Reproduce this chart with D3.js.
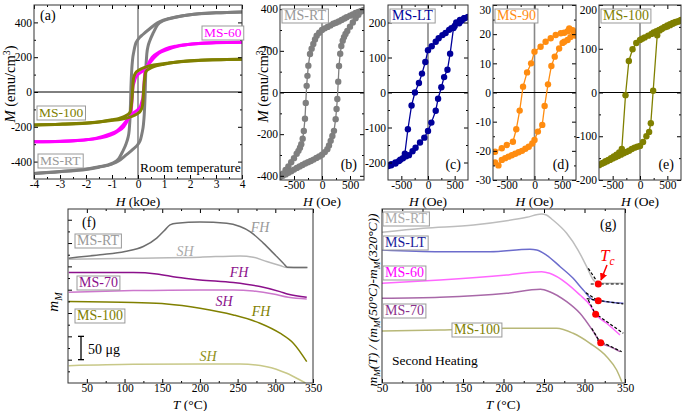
<!DOCTYPE html>
<html><head><meta charset="utf-8">
<script src="https://cdn.jsdelivr.net/npm/d3@7"></script>
<style>
body{margin:0;background:#fff;}
svg{display:block;}
</style></head><body>
<svg id="c" width="685" height="411" font-family="Liberation Serif, Times New Roman, serif"></svg>
<script>
// ---------------- DATA ----------------
// (a) room temperature loops, H in kOe, M in emu/cm3
const aRTdesc = [[4,460],[3,455],[2,444],[1.5,432],[1,414],[0.75,398],[0.44,362],[0.2,332],[0,302],[-0.1,273],[-0.16,233],[-0.21,185],[-0.24,129],[-0.27,32],[-0.3,-126],[-0.34,-222],[-0.39,-265],[-0.45,-294],[-0.6,-345],[-0.75,-385],[-1,-410],[-1.5,-430],[-2,-443],[-3,-458],[-4,-468]];
const aRTasc = [[-4,-468],[-3,-457],[-2,-445],[-1.5,-432],[-1,-414],[-0.75,-397],[-0.44,-360],[-0.2,-330],[0,-300],[0.1,-272],[0.16,-233],[0.21,-186],[0.24,-130],[0.27,-30],[0.3,125],[0.34,220],[0.39,265],[0.45,293],[0.6,344],[0.75,386],[1,411],[1.5,431],[2,444],[3,455],[4,460]];
const a60desc = [[4,286],[3,284],[2.4,280],[1.6,265],[1.1,242],[0.8,222],[0.6,194],[0.34,146],[0.15,117],[0,100],[-0.1,80],[-0.15,55],[-0.19,31],[-0.23,-46],[-0.27,-123],[-0.36,-152],[-0.55,-200],[-0.8,-228],[-1.06,-248],[-1.5,-265],[-2.08,-276],[-3,-283],[-4,-286]];
const a60asc = [[-4,-286],[-3,-284],[-2.4,-280],[-1.6,-265],[-1.1,-242],[-0.8,-222],[-0.6,-194],[-0.34,-146],[-0.15,-117],[0,-100],[0.1,-80],[0.15,-55],[0.19,-31],[0.23,46],[0.27,123],[0.36,152],[0.55,200],[0.8,228],[1.06,248],[1.5,265],[2.08,276],[3,283],[4,286]];
const a100desc = [[4,188],[3,186],[2,180],[1.1,165],[0.6,155],[0.34,146],[0.15,135],[0.03,125],[-0.1,108],[-0.17,80],[-0.2,31],[-0.23,-40],[-0.26,-84],[-0.3,-115],[-0.42,-132],[-0.7,-150],[-1,-160],[-1.44,-171],[-2,-178],[-3,-185],[-4,-189]];
const a100asc = [[-4,-189],[-3,-186],[-2,-180],[-1.1,-165],[-0.6,-155],[-0.34,-146],[-0.15,-135],[-0.03,-125],[0.1,-108],[0.17,-80],[0.2,-31],[0.23,40],[0.26,84],[0.3,115],[0.42,132],[0.7,150],[1,160],[1.44,171],[2,178],[3,185],[4,188]];
// (b) MS-RT, H in Oe
const bDesc = [[750,396],[700,392],[650,387],[600,382],[550,375],[500,369],[440,361],[400,355],[350,348],[300,341],[250,335],[202,330],[150,322],[100,315],[50,308],[0,300],[-50,287],[-95,273],[-125,255],[-155,233],[-185,210],[-214,185],[-244,129],[-260,80],[-274,32],[-290,-50],[-304,-126],[-325,-185],[-345,-222],[-370,-248],[-393,-265],[-420,-280],[-452,-294],[-500,-315],[-550,-335],[-600,-355],[-650,-372],[-700,-390],[-750,-406]];
const bAsc = [[-750,-406],[-700,-400],[-650,-393],[-600,-385],[-550,-378],[-500,-370],[-450,-362],[-400,-355],[-350,-348],[-300,-341],[-250,-335],[-200,-329],[-150,-322],[-100,-314],[-50,-307],[0,-299],[50,-286],[95,-272],[125,-254],[155,-232],[185,-209],[214,-184],[244,-128],[260,-79],[274,-31],[290,52],[304,127],[325,186],[345,223],[370,249],[393,266],[420,281],[452,295],[500,316],[550,336],[600,356],[650,373],[700,389],[750,396]];
// (c) MS-LT
const cDesc = [[750,215],[680,212],[630,205],[585,198],[500,190],[440,184],[396,179],[330,170],[270,164],[200,155],[145,145],[70,132],[0,121],[-50,87],[-113,54],[-170,27],[-245,0],[-308,-37],[-377,-105],[-434,-175],[-520,-192],[-610,-203],[-690,-208],[-750,-210]];
const cAsc = [[-750,-210],[-690,-205],[-610,-200],[-545,-196],[-470,-188],[-410,-182],[-358,-179],[-290,-168],[-233,-158],[-150,-143],[-69,-129],[0,-110],[63,-86],[145,-52],[189,-18],[250,15],[302,44],[365,65],[415,111],[478,184],[530,200],[600,207],[680,212],[750,216]];
// (d) MS-90
const dDesc = [[750,20.3],[690,21.4],[628,22],[600,21],[537,20.5],[476,20.3],[384,19.7],[293,18.6],[201,17.4],[110,15.7],[0,14],[-61,10],[-134,6.9],[-207,2],[-268,-6.2],[-329,-12.6],[-390,-16.9],[-500,-18],[-591,-19.1],[-713,-20.3]];
const dAsc = [[-713,-24],[-652,-25],[-591,-23.1],[-530,-22.5],[-470,-22],[-410,-21.5],[-348,-21],[-287,-20.5],[-226,-20],[-165,-19.3],[-104,-18.6],[-40,-17.5],[0,-16.3],[61,-13.4],[140,-11.1],[183,-4.6],[244,2.8],[305,9.1],[366,12.3],[445,15.1],[506,17],[537,17.4],[598,18],[650,19],[700,19.7],[750,19.5]];
// (e) MS-100
const eDesc = [[750,165],[700,162],[650,160],[600,157],[550,154],[500,151],[457,149],[400,146],[350,143],[300,140],[250,137],[210,134],[150,130],[86,126],[40,123],[0,120],[-68,113],[-136,99],[-204,72],[-265,-6],[-333,-129],[-380,-137],[-430,-142],[-480,-146],[-530,-150],[-580,-154],[-630,-157],[-680,-161],[-750,-165]];
const eAsc = [[-750,-166],[-700,-163],[-650,-160],[-600,-157],[-550,-154],[-500,-151],[-450,-148],[-400,-145],[-350,-142],[-300,-139],[-250,-136],[-200,-133],[-150,-129],[-100,-126],[-50,-124],[0,-122],[56,-113],[117,-100],[167,-90],[198,-70],[241,4],[315,131],[360,142],[400,146],[450,150],[500,153],[550,156],[600,159],[650,161],[700,163],[750,166]];
// (f) thermomagnetic mass, T in °C, m in µg (arbitrary offset)
const fRT_FH = [[26,267.6],[67.5,274.7],[100.6,281.8],[124.9,292.5],[142.7,310.5],[153.7,328.3],[160.3,339.1],[169.2,342.7],[200.1,344.9],[235.5,342.7],[253.2,335.4],[266.4,324.7],[284.1,299.8],[301.9,271],[310.6,256.9],[315.9,248.3],[332.8,247.4],[342.7,247.4]];
const fRT_SH = [[26,265.5],[111.6,267.6],[200.1,269.8],[253.2,272.5],[270.8,269.8],[288.6,260.3],[306.2,251.7],[315.9,247.4],[341.7,247.4]];
const f70_FH = [[26,236.7],[111.6,236.7],[142.7,233.9],[169.2,226.8],[200.1,221],[244.3,215.2],[279.7,206.7],[306.2,195.9],[317.3,190.4],[341.7,183.9]];
const f70_SH = [[26,194.6],[111.6,198.1],[200.1,199.6],[244.3,199.6],[270.8,197.4],[297.3,191],[317.3,183.9],[341.7,180.3]];
const f100_FH = [[26,174.5],[111.6,172.3],[155.9,169.5],[200.1,160.3],[244.3,145.9],[279.7,128.1],[306.2,106.7],[323.9,85.2],[341.7,45.7]];
const f100_SH = [[26,37.1],[111.6,40.1],[200.1,40.8],[253.2,40.8],[288.6,35],[315.2,20.8],[332.8,6.4],[340,0]];
// (g) normalised second heating, stacked
const gRT = [[50,5.196],[101,5.334],[163,5.448],[204,5.596],[228.6,5.713],[247,5.827],[253,5.793],[261,5.62],[278,5.162],[292,4.586],[302.7,4.01],[311,3.552],[317,3.438],[348,3.438]];
const gLT = [[50,4.586],[121.6,4.527],[183,4.527],[232.7,4.61],[241,4.586],[253,4.413],[270,4.01],[286,3.61],[298.5,3.207],[311,2.862],[317,2.838],[348,2.748]];
const g60 = [[50,3.438],[121.6,3.552],[204,3.724],[247,3.838],[257,3.783],[278,3.438],[294.4,3.034],[306.8,2.69],[313.8,2.369],[327.4,2.059],[343.8,1.655]];
const g70 = [[50,2.921],[121.6,2.955],[204,3.093],[245.7,3.231],[257,3.148],[278,2.803],[294.4,2.403],[311,1.769],[320,1.39],[331.6,1.252],[344,1.079]];
const g100 = [[50,1.793],[121.6,1.828],[204,1.886],[265.6,1.886],[286,1.714],[306.8,1.369],[327.4,0.907],[339.7,0.448],[346,0.045]];
const gTangents = [[304.7,3.955,319.1,3.345],[307.7,3.414,347.9,3.414],[301.9,3.114,318.3,2.803],[302.7,2.907,347.9,2.724],[304.7,2.862,315.1,2.286],[311.7,2.424,347.9,1.714],[308.9,1.886,321.2,1.31],[315.8,1.483,345.9,1.079]];
const gTc = [[317,3.414],[317,2.838],[313.8,2.369],[320,1.39]];

// tick values
const aXticks = [-4,-3,-2,-1,0,1,2,3,4], aXminor = [-3.5,-2.5,-1.5,-0.5,0.5,1.5,2.5,3.5];
const aYticks = [-400,-200,0,200,400], aYminor = [-300,-100,100,300];
const oeTicks = [-500,0,500], oeMinor = [-250,250];
const bYticks = [-400,-200,0,200,400], bYminor = [-300,-100,100,300];
const cYticks = [-200,-100,0,100,200], cYminor = [-150,-50,50,150];
const dYticks = [-30,-20,-10,0,10,20,30], dYminor = [-25,-15,-5,5,15,25];
const eYticks = [-200,-100,0,100,200], eYminor = [-150,-50,50,150];
const tTicks = [50,100,150,200,250,300,350], tMinor = [75,125,175,225,275,325];
const fYticks = [50,100,150,200,250,300,350], fYminor = [25,75,125,175,225,275,325];

// ---------------- DRAW ----------------
const FONT = 'Liberation Serif, Times New Roman, serif';
const svg = d3.select('#c');
const FS = 11.5;

function panel(l, r, t, b, xd, yd) {
  return { x: d3.scaleLinear().domain(xd).range([l, r]), y: d3.scaleLinear().domain(yd).range([b, t]), l, r, t, b };
}
function styleAx(s) { s.attr('font-family', FONT).attr('font-size', FS); s.select('.domain').remove(); s.selectAll('text').attr('fill', '#000'); }
function axes(p, o) {
  const g = svg.append('g');
  const fmt = d => String(d);
  const add = (axis, tr) => g.append('g').attr('transform', tr).call(axis).call(styleAx);
  if (o.xMajor) {
    add(d3.axisBottom(p.x).tickValues(o.xMajor).tickSize(-4).tickSizeOuter(0).tickPadding(1).tickFormat(o.noXLab ? '' : fmt), `translate(0,${p.b})`);
    add(d3.axisTop(p.x).tickValues(o.xMajor).tickSize(-4).tickSizeOuter(0).tickFormat(''), `translate(0,${p.t})`);
  }
  if (o.xMinor) {
    add(d3.axisBottom(p.x).tickValues(o.xMinor).tickSize(-2).tickSizeOuter(0).tickFormat(''), `translate(0,${p.b})`);
    add(d3.axisTop(p.x).tickValues(o.xMinor).tickSize(-2).tickSizeOuter(0).tickFormat(''), `translate(0,${p.t})`);
  }
  if (o.yMajor) {
    const ya = add(d3.axisLeft(p.y).tickValues(o.yMajor).tickSize(-4).tickSizeOuter(0).tickPadding(2).tickFormat(o.noYLab ? '' : fmt), `translate(${p.l},0)`);
    // keep the top label inside the picture
    ya.selectAll('.tick').filter(d => p.y(d) < 9).select('text').attr('dy', '0.7em');
    if (!o.noRight) add(d3.axisRight(p.y).tickValues(o.yMajor).tickSize(-4).tickSizeOuter(0).tickFormat(''), `translate(${p.r},0)`);
  }
  if (o.yMinor) {
    add(d3.axisLeft(p.y).tickValues(o.yMinor).tickSize(-2).tickSizeOuter(0).tickFormat(''), `translate(${p.l},0)`);
    if (!o.noRight) add(d3.axisRight(p.y).tickValues(o.yMinor).tickSize(-2).tickSizeOuter(0).tickFormat(''), `translate(${p.r},0)`);
  }
  svg.append('rect').attr('x', p.l).attr('y', p.t).attr('width', p.r - p.l).attr('height', p.b - p.t)
    .attr('fill', 'none').attr('stroke', '#333').attr('stroke-width', 1);
}
function zeroLines(p) {
  svg.append('line').attr('x1', p.x(0)).attr('x2', p.x(0)).attr('y1', p.t).attr('y2', p.b).attr('stroke', '#888').attr('stroke-width', 1.6);
  svg.append('line').attr('x1', p.l).attr('x2', p.r).attr('y1', p.y(0)).attr('y2', p.y(0)).attr('stroke', '#000').attr('stroke-width', 1);
}
function clip(p, id) {
  svg.append('clipPath').attr('id', id).append('rect').attr('x', p.l).attr('y', p.t).attr('width', p.r - p.l).attr('height', p.b - p.t);
  return `url(#${id})`;
}
function curve(p, data, color, w, cp, curveType) {
  const line = d3.line().x(d => p.x(d[0])).y(d => p.y(d[1])).curve(curveType || d3.curveLinear);
  svg.append('path').datum(data).attr('d', line).attr('fill', 'none').attr('stroke', color).attr('stroke-width', w)
    .attr('stroke-linejoin', 'round').attr('clip-path', cp);
}
function dots(p, data, color, r, cp) {
  svg.append('g').attr('clip-path', cp).selectAll('circle').data(data).join('circle')
    .attr('cx', d => p.x(d[0])).attr('cy', d => p.y(d[1])).attr('r', r).attr('fill', color);
}
function rich(parent, parts, fs) {
  let shift = 0;
  parts.forEach(([t, s]) => {
    const ts = parent.append('tspan').text(t);
    let target = 0;
    if (s === 'sup') target = -0.38 * fs;
    if (s === 'sub' || s === 'isub') target = 0.25 * fs;
    ts.attr('dy', target - shift); shift = target;
    if (s === 'i' || s === 'isub') ts.attr('font-style', 'italic');
    if (s === 'sup' || s === 'sub' || s === 'isub') ts.attr('font-size', fs * 0.68);
  });
}
function label(x, y, parts, fs, opts = {}) {
  const t = svg.append('text').attr('font-size', fs).attr('fill', opts.color || '#000')
    .attr('font-family', FONT).attr('text-anchor', opts.anchor || 'start');
  if (opts.rot) t.attr('transform', `translate(${x},${y}) rotate(-90)`); else t.attr('x', x).attr('y', y);
  if (opts.italic) t.attr('font-style', 'italic');
  rich(t, parts, fs);
  return t;
}
function boxLabel(x, y, text, color, fs) {
  const g = svg.append('g');
  const r = g.append('rect');
  const t = g.append('text').attr('x', x).attr('y', y).attr('font-size', fs).attr('font-family', FONT).attr('fill', color).text(text);
  const bb = t.node().getBBox();
  r.attr('x', bb.x - 2).attr('y', bb.y + 1).attr('width', bb.width + 4).attr('height', bb.height - 1)
    .attr('fill', '#fff').attr('stroke', '#999').attr('stroke-width', 1);
}

// ---- panel (a)
const pa = panel(34, 242, 5, 179, [-4, 4], [-500, 500]);
const ca = clip(pa, 'ca');
zeroLines(pa);
[[aRTdesc, aRTasc, '#7f7f7f'], [a60desc, a60asc, '#ff00ff'], [a100desc, a100asc, '#808000']].forEach(([d1, d2, col]) => {
  curve(pa, d1, col, 3, ca, d3.curveMonotoneX);
  curve(pa, d2, col, 3, ca, d3.curveMonotoneX);
});
axes(pa, { xMajor: aXticks, xMinor: aXminor, yMajor: aYticks, yMinor: aYminor });
label(40, 20, [['(a)']], 14);
boxLabel(204, 37, 'MS-60', '#ff00ff', 13.5);
boxLabel(39, 117, 'MS-100', '#808000', 13.5);
boxLabel(40, 165, 'MS-RT', '#999', 13.5);
label(140, 172, [['Room temperature']], 13.5);
label(15, 84, [['M', 'i'], [' (emu/cm'], ['3', 'sup'], [')']], 14.5, { rot: true, anchor: 'middle' });
label(138, 206, [['H', 'i'], [' (kOe)']], 13.5, { anchor: 'middle' });

// ---- panels (b)-(e)
const small = [
  { l: 280, r: 364, yd: [-420, 420], yt: bYticks, ym: bYminor, d1: bDesc, d2: bAsc, col: '#7f7f7f', name: 'MS-RT', ncol: '#999', tag: '(b)' },
  { l: 388, r: 468, yd: [-250, 250], yt: cYticks, ym: cYminor, d1: cDesc, d2: cAsc, col: '#00009a', name: 'MS-LT', ncol: '#00009a', tag: '(c)' },
  { l: 493, r: 576, yd: [-30, 30], yt: dYticks, ym: dYminor, d1: dDesc, d2: dAsc, col: '#ff8c10', name: 'MS-90', ncol: '#ff8c10', tag: '(d)' },
  { l: 599, r: 681, yd: [-200, 200], yt: eYticks, ym: eYminor, d1: eDesc, d2: eAsc, col: '#808000', name: 'MS-100', ncol: '#808000', tag: '(e)' }
];
small.forEach((s, i) => {
  const p = panel(s.l, s.r, 5, 180, [-750, 750], s.yd);
  const cp = clip(p, 'cs' + i);
  zeroLines(p);
  curve(p, s.d1, s.col, 1.3, cp);
  curve(p, s.d2, s.col, 1.3, cp);
  dots(p, s.d1, s.col, 3.2, cp);
  dots(p, s.d2, s.col, 3.2, cp);
  axes(p, { xMajor: oeTicks, xMinor: oeMinor, yMajor: s.yt, yMinor: s.ym });
  boxLabel(s.l + 4, 20, s.name, s.ncol, 14);
  label(s.r - 7, 169, [[s.tag]], 14, { anchor: 'end' });
  label(p.x(0), 206, [['H', 'i'], [' (Oe)']], 13.5, { anchor: 'middle' });
});
label(268, 84, [['M', 'i'], [' (emu/cm'], ['3', 'sup'], [')']], 14.5, { rot: true, anchor: 'middle' });

// ---- panel (f)
const pf = panel(68, 313, 209, 383, [25, 350], [0, 373]);
const cf = clip(pf, 'cf');
curve(pf, fRT_SH, '#b8b8b8', 1.5, cf, d3.curveMonotoneX);
curve(pf, fRT_FH, '#6e6e6e', 1.5, cf, d3.curveMonotoneX);
curve(pf, f70_SH, '#cc77cc', 1.5, cf, d3.curveMonotoneX);
curve(pf, f70_FH, '#8b108b', 1.5, cf, d3.curveMonotoneX);
curve(pf, f100_FH, '#808000', 1.5, cf, d3.curveMonotoneX);
curve(pf, f100_SH, '#c8c888', 1.5, cf, d3.curveMonotoneX);
axes(pf, { xMajor: tTicks, xMinor: tMinor, yMajor: fYticks, yMinor: fYminor, noYLab: true, noRight: true });
label(82, 227, [['(f)']], 14);
boxLabel(77, 245, 'MS-RT', '#999', 14);
boxLabel(79, 287, 'MS-70', '#8b108b', 14);
boxLabel(77, 320, 'MS-100', '#808000', 14);
label(260, 232, [['FH']], 14, { italic: true, color: '#999', anchor: 'middle' });
label(185, 256, [['SH']], 14, { italic: true, color: '#aaa', anchor: 'middle' });
label(239, 277, [['FH']], 14, { italic: true, color: '#8b108b', anchor: 'middle' });
label(224, 306, [['SH']], 14, { italic: true, color: '#8b108b', anchor: 'middle' });
label(261, 316, [['FH']], 14, { italic: true, color: '#808000', anchor: 'middle' });
label(208, 361, [['SH']], 14, { italic: true, color: '#909020', anchor: 'middle' });
const sbx = 81;
svg.append('line').attr('x1', sbx).attr('x2', sbx).attr('y1', pf.y(50)).attr('y2', pf.y(100)).attr('stroke', '#000').attr('stroke-width', 1.3);
[50, 100].forEach(v => svg.append('line').attr('x1', sbx - 3).attr('x2', sbx + 3).attr('y1', pf.y(v)).attr('y2', pf.y(v)).attr('stroke', '#000').attr('stroke-width', 1.3));
label(88, 354, [['50 μg']], 14);
label(58, 302, [['m', 'i'], ['M', 'isub']], 15, { rot: true, anchor: 'middle' });
label(190, 409, [['T', 'i'], [' (°C)']], 13.5, { anchor: 'middle' });

// ---- panel (g)
const pg = panel(382, 625, 209, 383, [50, 350], [0, 6]);
const cg = clip(pg, 'cg');
curve(pg, g100, '#b8b878', 1.5, cg, d3.curveMonotoneX);
curve(pg, g70, '#a868a8', 1.5, cg, d3.curveMonotoneX);
curve(pg, g60, '#ff66ff', 1.5, cg, d3.curveMonotoneX);
curve(pg, gLT, '#6c6ccc', 1.5, cg, d3.curveMonotoneX);
curve(pg, gRT, '#bdbdbd', 1.5, cg, d3.curveMonotoneX);
svg.append('g').selectAll('line').data(gTangents).join('line')
  .attr('x1', d => pg.x(d[0])).attr('y1', d => pg.y(d[1])).attr('x2', d => pg.x(d[2])).attr('y2', d => pg.y(d[3]))
  .attr('stroke', '#000').attr('stroke-width', 1.2).attr('stroke-dasharray', '3,2');
dots(pg, gTc, '#ff0000', 3.5, cg);
axes(pg, { xMajor: tTicks, xMinor: tMinor });
label(600, 229, [['(g)']], 14);
boxLabel(385, 223, 'MS-RT', '#aaa', 14);
boxLabel(385, 247, 'MS-LT', '#1a1a9a', 14);
boxLabel(385, 277, 'MS-60', '#ff00ff', 14);
boxLabel(385, 315, 'MS-70', '#8b308b', 14);
boxLabel(454, 334, 'MS-100', '#808000', 14);
label(392, 365, [['Second Heating']], 13.5);
const tc = svg.append('text').attr('x', 600).attr('y', 261).attr('font-size', 17).attr('font-family', FONT).attr('fill', '#f00').attr('font-style', 'italic');
rich(tc, [['T'], ['c', 'sub']], 17);
svg.append('defs').append('marker').attr('id', 'arr').attr('viewBox', '0 0 10 10').attr('refX', 9).attr('refY', 5)
  .attr('markerWidth', 5).attr('markerHeight', 5).attr('orient', 'auto')
  .append('path').attr('d', 'M0,0L10,5L0,10z').attr('fill', '#f00');
svg.append('line').attr('x1', 607).attr('y1', 265).attr('x2', 601).attr('y2', 280).attr('stroke', '#f00').attr('stroke-width', 1.5).attr('marker-end', 'url(#arr)');
label(377, 300, [['m', 'i'], ['M', 'isub'], ['(', 'i'], ['T', 'i'], [') / (', 'i'], ['m', 'i'], ['M', 'isub'], ['(50°C)-', 'i'], ['m', 'i'], ['M', 'isub'], ['(320°C))', 'i']], 13.5, { rot: true, anchor: 'middle' });
label(503, 409, [['T', 'i'], [' (°C)']], 13.5, { anchor: 'middle' });
</script>
</body></html>
